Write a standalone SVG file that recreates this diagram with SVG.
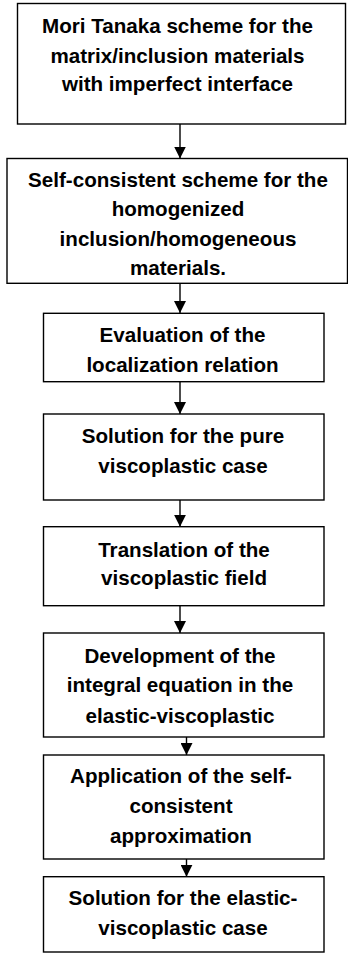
<svg xmlns="http://www.w3.org/2000/svg" width="348" height="953" viewBox="0 0 348 953">
<style>
.box{fill:#fff;stroke:#000;stroke-width:1.4}
.t{font-family:"Liberation Sans",Arial,sans-serif;font-weight:bold;font-size:20.6px;fill:#000;text-anchor:middle}
.c{stroke:#000;stroke-width:1.4;fill:none}
.ah{fill:#000}
</style>
<defs>
<marker id="arr" markerWidth="12" markerHeight="12" viewBox="0 0 12 12" refX="12" refY="6" orient="auto" markerUnits="userSpaceOnUse">
<path d="M0,0 L12,6 L0,12 Z" class="ah"/>
</marker>
</defs>
<rect width="348" height="953" fill="#fff"/>
<g id="connectors">
<line class="c" x1="180" y1="124" x2="180" y2="158.5" marker-end="url(#arr)"/>
<line class="c" x1="180" y1="283.3" x2="180" y2="313" marker-end="url(#arr)"/>
<line class="c" x1="180" y1="381.7" x2="180" y2="414" marker-end="url(#arr)"/>
<line class="c" x1="180" y1="500" x2="180" y2="526.7" marker-end="url(#arr)"/>
<line class="c" x1="180" y1="605.7" x2="180" y2="633" marker-end="url(#arr)"/>
<line class="c" x1="186.5" y1="737" x2="186.5" y2="755" marker-end="url(#arr)"/>
<line class="c" x1="186.5" y1="859" x2="186.5" y2="876.7" marker-end="url(#arr)"/>
</g>
<g id="n1">
<rect class="box" x="17.5" y="3.5" width="328" height="120.5"/>
<text class="t" x="177.5" y="33">Mori Tanaka scheme for the</text>
<text class="t" x="177.5" y="62.5">matrix/inclusion materials</text>
<text class="t" x="177.5" y="91">with imperfect interface</text>
</g>
<g id="n2">
<rect class="box" x="7" y="158.5" width="340.5" height="124.8"/>
<text class="t" x="178" y="186.5">Self-consistent scheme for the</text>
<text class="t" x="178" y="215.5">homogenized</text>
<text class="t" x="178" y="245.5">inclusion/homogeneous</text>
<text class="t" x="178" y="275">materials.</text>
</g>
<g id="n3">
<rect class="box" x="43.5" y="313.3" width="280.5" height="68.4"/>
<text class="t" x="182.5" y="341.7">Evaluation of the</text>
<text class="t" x="182.5" y="371.7">localization relation</text>
</g>
<g id="n4">
<rect class="box" x="43.5" y="414" width="280.5" height="86"/>
<text class="t" x="183" y="443.3">Solution for the pure</text>
<text class="t" x="183" y="472.7">viscoplastic case</text>
</g>
<g id="n5">
<rect class="box" x="43.5" y="526.7" width="280.5" height="79"/>
<text class="t" x="184" y="556.7">Translation of the</text>
<text class="t" x="184" y="585">viscoplastic field</text>
</g>
<g id="n6">
<rect class="box" x="43.5" y="633" width="280.5" height="104"/>
<text class="t" x="180" y="663.3">Development of the</text>
<text class="t" x="180" y="692">integral equation in the</text>
<text class="t" x="180" y="722.7">elastic-viscoplastic</text>
</g>
<g id="n7">
<rect class="box" x="43.5" y="755" width="280.5" height="104"/>
<text class="t" x="181" y="783.3">Application of the self-</text>
<text class="t" x="181" y="813.3">consistent</text>
<text class="t" x="181" y="843.3">approximation</text>
</g>
<g id="n8">
<rect class="box" x="43.5" y="876.7" width="280.5" height="75.3"/>
<text class="t" x="183" y="905">Solution for the elastic-</text>
<text class="t" x="183" y="935">viscoplastic case</text>
</g>
</svg>
